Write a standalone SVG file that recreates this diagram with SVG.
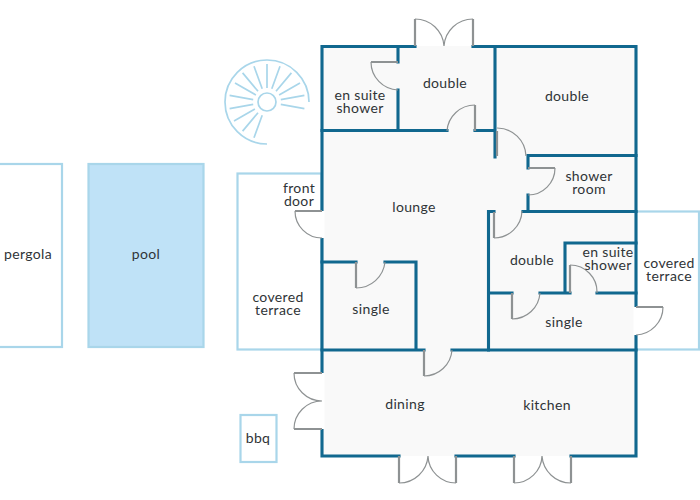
<svg xmlns="http://www.w3.org/2000/svg" width="700" height="500" viewBox="0 0 700 500">
<style>
text{font-family:"Lato","Liberation Sans",sans-serif;font-size:14px;fill:#2f3437;text-anchor:middle;letter-spacing:.35px}
.wall{fill:none;stroke:#11688f;stroke-width:3.1;stroke-linecap:square;stroke-linejoin:miter}
.out{fill:none;stroke:#a9d6ea;stroke-width:2.2}
.leaf{fill:none;stroke:#8e9293;stroke-width:2.2}
.arc{fill:none;stroke:#8e9293;stroke-width:1.2}
.stair{fill:none;stroke:#a9d6ea;stroke-width:1.7}
</style>
<rect width="700" height="500" fill="#fff"/>
<g id="pergola"><rect class="out" x="-4" y="164" width="66" height="183"/><text x="28" y="259">pergola</text></g>
<g id="pool"><rect class="out" x="88.500" y="164" width="115" height="183" style="fill:#bfe2f7"/><text x="146" y="259">pool</text></g>
<g id="bbq"><rect class="out" x="240.500" y="415" width="36" height="47"/><text x="258" y="443">bbq</text></g>
<g id="terrace-left"><rect class="out" x="237.500" y="173.500" width="84" height="176"/><text x="278" y="302">covered<tspan x="278" dy="13">terrace</tspan></text></g>
<g id="terrace-right"><rect class="out" x="636" y="211.500" width="63" height="138"/><text x="669" y="268">covered<tspan x="669" dy="13">terrace</tspan></text></g>
<g id="stairs">
<path class="stair" d="M309 102A42 42 0 1 0 267 144"/>
<circle class="stair" cx="267" cy="102" r="9"/>
<path class="stair" d="M262.200 88.800L254 66.300M258 91.300L242.600 72.900M255.900 95L235 83M253.200 99.600L229.600 95.400M253.200 104.400L229.600 108.600M254.900 109L234 121M258 112.700L242.600 131.100M262.200 115.200L254 137.700M267 88V64M271.800 88.800L280 66.300M276 91.300L291.400 72.900M279.100 95L300 83M280.800 99.600L304.400 95.400M280.800 104.400L304.400 108.600"/>
</g>
<g id="floor"><rect x="322" y="46" width="314" height="410" fill="#f9f9f9"/></g>
<g id="walls">
<path class="wall" d="M415 46.500H322V456H399M456 456H514M571 456H636V46.500H473"/>
<path class="wall" d="M398 46.500V62M398 90V130.500M322 130.500H447M475 130.500H495M495 46.500V157M528 155.500H636M528 155.500V168M528 195V211.500M523 211.500H636M488.500 211.500H494M488.500 211.500V350M565 243H636M565 243V293M488.500 293H512M540 293H570M597 293H636"/>
<path class="wall" d="M322 262H356M385 262H416V350M322 350H424M452 350H636"/>
</g>
<g id="door-openings"><rect x="320" y="211" width="4.500" height="27" fill="#fff"/><rect x="320" y="373" width="4.500" height="56" fill="#fff"/><rect x="633.500" y="307" width="5" height="28" fill="#fff"/></g>
<g id="doors">
<path class="leaf" d="M415 46V19M473 46V19M398 62H371M475 131V105M497 131V156M528 168H555M494 212V238M512 293V319M570 293V265M636 307H663M322 211H295M356 262V288M424 350V376M322 373H294M294 429H322M399 456V483M456 456V483M514 456V483M571 456V483"/>
<path class="arc" d="M415 19A29 29 0 0 1 444 46M473 19A29 29 0 0 0 444 46M371 62A28 28 0 0 0 398 90M447 131A28 28 0 0 1 475 105M497 128A29 29 0 0 1 526 156M555 168A27 27 0 0 1 528 195M494 238A28 28 0 0 0 522 211M512 319A28 28 0 0 0 540 293M570 265A27 27 0 0 1 597 293M663 307A28 28 0 0 1 636 335M295 211A27 27 0 0 0 322 238M356 288A29 29 0 0 0 385 262M424 376A28 28 0 0 0 452 350M294 373A28 28 0 0 0 322 401M322 401A28 28 0 0 0 294 429M399 483A29 29 0 0 0 428 456M428 456A28 28 0 0 0 456 483M514 483A28 28 0 0 0 542 456M542 456A29 29 0 0 0 571 483"/>
</g>
<g id="labels">
<g id="room-double-1"><text x="445" y="88">double</text></g>
<g id="room-double-2"><text x="567" y="101">double</text></g>
<g id="room-ensuite-1"><text x="360" y="100">en suite<tspan x="360" dy="13">shower</tspan></text></g>
<g id="room-shower"><text x="589" y="181">shower<tspan x="589" dy="13">room</tspan></text></g>
<g id="room-lounge"><text x="414" y="212">lounge</text></g>
<g id="front-door"><text x="299" y="193">front<tspan x="299" dy="13">door</tspan></text></g>
<g id="room-single-1"><text x="371" y="314">single</text></g>
<g id="room-double-3"><text x="532" y="265">double</text></g>
<g id="room-ensuite-2"><text x="608" y="257">en suite<tspan x="608" dy="13">shower</tspan></text></g>
<g id="room-single-2"><text x="564" y="327">single</text></g>
<g id="room-dining"><text x="405" y="409">dining</text></g>
<g id="room-kitchen"><text x="547" y="410">kitchen</text></g>
</g>
</svg>
